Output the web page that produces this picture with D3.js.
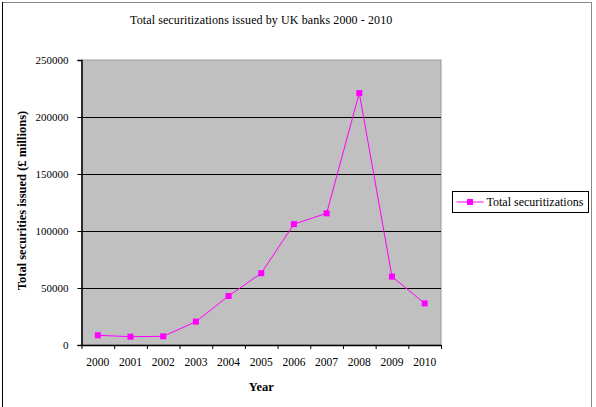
<!DOCTYPE html>
<html>
<head>
<meta charset="utf-8">
<script src="https://cdn.jsdelivr.net/npm/d3@7"></script>
<style>
  body { margin: 0; background: #fff; }
  text { font-family: "Liberation Serif", "Times New Roman", serif; fill: #000; }
</style>
</head>
<body>
<svg id="chart" width="596" height="407"></svg>
<script>
// data
const years = ["2000", "2001", "2002", "2003", "2004", "2005", "2006", "2007", "2008", "2009", "2010"];
const securitizations = [8500, 7300, 7600, 20500, 43000, 63000, 106000, 115500, 221000, 60000, 36500];
const yTicks = [0, 50000, 100000, 150000, 200000, 250000];
const seriesName = "Total securitizations";

const svg = d3.select("#chart");
const margin = { top: 60, right: 155, bottom: 62, left: 81.5 };
const width = 596 - margin.left - margin.right;
const height = 407 - margin.top - margin.bottom;

// outer chart border
svg.append("rect")
    .attr("x", 2.5).attr("y", 2.5)
    .attr("width", 589).attr("height", 420)
    .attr("fill", "none")
    .attr("stroke", "#888");
svg.append("line")
    .attr("x1", 2.5).attr("x2", 2.5).attr("y1", 2).attr("y2", 407)
    .attr("stroke", "#000");

svg.append("text")
    .attr("x", margin.left + width / 2)
    .attr("y", 24)
    .attr("text-anchor", "middle")
    .style("font-size", "12px")
    .style("letter-spacing", "0.1px")
    .text("Total securitizations issued by UK banks  2000 - 2010");

const g = svg.append("g")
    .attr("transform", "translate(" + margin.left + "," + margin.top + ")");

// scales
const x = d3.scaleBand().domain(years).range([0, width]).padding(0);
const xEdge = d3.scaleLinear().domain([0, years.length]).range([0, width]);
const y = d3.scaleLinear().domain([0, 250000]).range([height, 0]);

// plot area
g.append("rect")
    .attr("width", width).attr("height", height)
    .attr("fill", "#c0c0c0")
    .attr("stroke", "#999");

// gridlines
g.selectAll(".grid")
    .data(yTicks.filter(d => d > 0 && d < 250000))
    .enter().append("line")
    .attr("class", "grid")
    .attr("x1", 0).attr("x2", width)
    .attr("y1", d => Math.round(y(d)) + 0.5)
    .attr("y2", d => Math.round(y(d)) + 0.5)
    .attr("stroke", "#000");

// y axis
const yAxis = g.append("g")
    .call(d3.axisLeft(y).tickValues(yTicks).tickFormat(d3.format("d")).tickSize(4).tickPadding(9));
yAxis.select(".domain").attr("stroke", "#000").attr("stroke-width", 1.5);
yAxis.selectAll("text").style("font-size", "11px").attr("font-family", null);

// x axis: labels under each category, ticks on category edges
const xLabels = g.append("g")
    .attr("transform", "translate(0," + height + ")")
    .call(d3.axisBottom(x).tickSize(0).tickPadding(13));
xLabels.select(".domain").remove();
xLabels.selectAll("text").style("font-size", "11.5px").attr("font-family", null);

const xTicks = g.append("g")
    .attr("transform", "translate(0," + height + ")")
    .call(d3.axisBottom(xEdge).ticks(years.length).tickSize(4).tickFormat("").tickSizeOuter(0));
xTicks.select(".domain").attr("stroke", "#000").attr("stroke-width", 1.5);

// axis titles
svg.append("text")
    .attr("x", margin.left + width / 2)
    .attr("y", 391)
    .attr("text-anchor", "middle")
    .style("font-size", "12.5px")
    .style("font-weight", "bold")
    .text("Year");

svg.append("text")
    .attr("transform", "translate(26," + (margin.top + height / 2 - 2) + ") rotate(-90)")
    .attr("text-anchor", "middle")
    .style("font-size", "12.5px")
    .style("font-weight", "bold")
    .text("Total securities issued (£ millions)");

// series
const cx = d => x(d) + x.bandwidth() / 2;
const points = years.map((yr, i) => ({ year: yr, value: securitizations[i] }));

g.append("path")
    .datum(points)
    .attr("fill", "none")
    .attr("stroke", "#ff00ff")
    .attr("stroke-width", 1)
    .attr("d", d3.line().x(d => cx(d.year)).y(d => y(d.value)));

g.selectAll(".marker")
    .data(points)
    .enter().append("rect")
    .attr("class", "marker")
    .attr("x", d => cx(d.year) - 3)
    .attr("y", d => y(d.value) - 3)
    .attr("width", 6).attr("height", 6)
    .attr("fill", "#ff00ff");

// legend
const legend = svg.append("g").attr("transform", "translate(452.5,191.5)");
legend.append("rect")
    .attr("width", 136).attr("height", 21)
    .attr("fill", "#fff").attr("stroke", "#000");
legend.append("line")
    .attr("x1", 4).attr("x2", 31).attr("y1", 10.5).attr("y2", 10.5)
    .attr("stroke", "#ff00ff");
legend.append("rect")
    .attr("x", 14.5).attr("y", 7.5).attr("width", 6).attr("height", 6)
    .attr("fill", "#ff00ff");
legend.append("text")
    .attr("x", 34).attr("y", 14.5)
    .style("font-size", "12px")
    .text(seriesName);
</script>
</body>
</html>
